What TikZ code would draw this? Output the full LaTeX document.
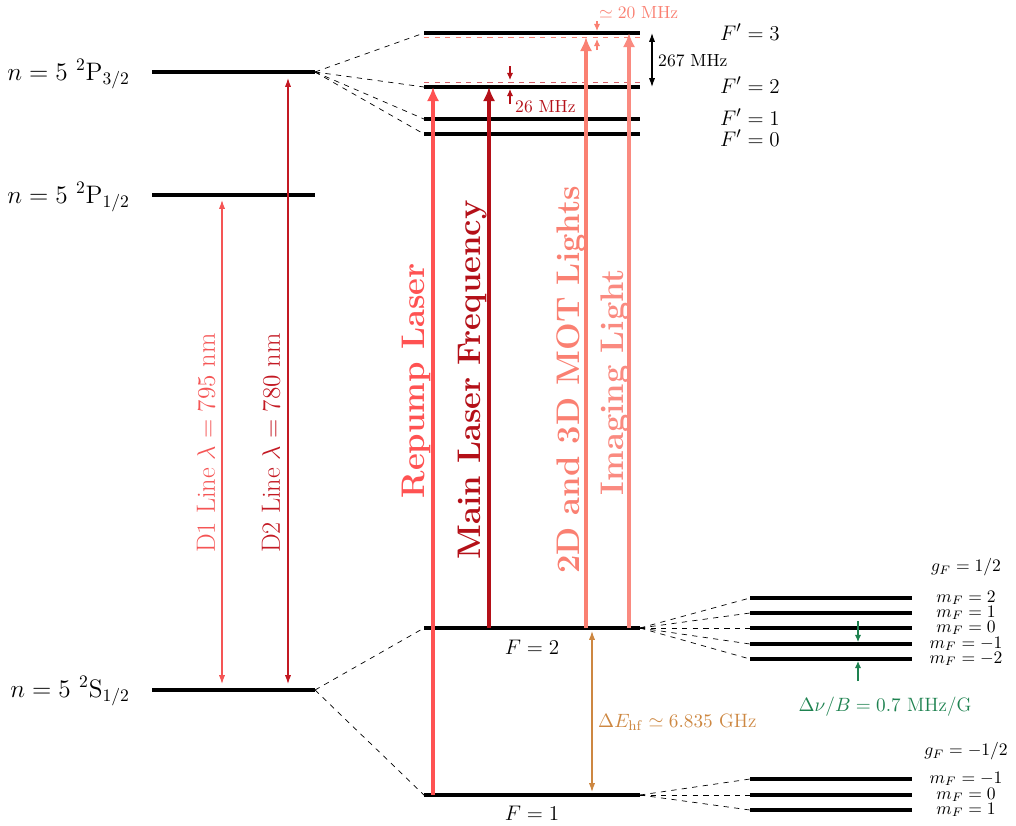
\documentclass[tikz,border=0pt]{standalone}
\usepackage{xcolor}
\usepackage{amsmath}
\usepackage{amssymb}
\usepackage{tikz}
\usetikzlibrary{arrows.meta}

\definecolor{repcol}{RGB}{255,82,82}
\definecolor{maincol}{RGB}{180,16,24}
\definecolor{motcol}{RGB}{250,128,114}
\definecolor{imgcol}{RGB}{250,138,128}
\definecolor{dashcol}{RGB}{215,95,105}
\definecolor{dacol}{RGB}{245,85,85}
\definecolor{dbcol}{RGB}{195,25,35}
\definecolor{hfcol}{RGB}{205,135,65}
\definecolor{zcol}{RGB}{30,130,80}

\begin{document}
\begin{tikzpicture}[x=0.02cm, y=-0.02cm,
                level/.style={line width=2.2pt},
                link/.style={dashed, thin},
                beam/.style={line width=2pt, -{Latex[length=8pt,width=7pt]}},
                gap/.style={semithick, {Latex[length=5pt,width=3.5pt]}-{Latex[length=5pt,width=3.5pt]}},
                tick/.style={semithick, -{Latex[length=4pt,width=3.5pt]}},
                beamlabel/.style={rotate=90, font=\fontsize{18.6}{22}\selectfont\bfseries},
                linelabel/.style={rotate=90, font=\fontsize{15}{18}\selectfont},
                finelabel/.style={font=\Large},
                statelabel/.style={font=\fontsize{13}{15}\selectfont},
                notelabel/.style={font=\fontsize{11}{13}\selectfont}
            ]
        \useasboundingbox (0,0) rectangle (1016,825);

        % fine structure
        \coordinate (P32a) at (152,72);  \coordinate (P32b) at (315,72);
        \coordinate (P12a) at (152,195); \coordinate (P12b) at (315,195);
        \coordinate (S12a) at (152,690); \coordinate (S12b) at (315,690);
        \draw[level] (P32a) -- (P32b);
        \draw[level] (P12a) -- (P12b);
        \draw[level] (S12a) -- (S12b);
        \node[finelabel, anchor=base east] (P32lab) at (136,80)  {$n = 5~^2\mathrm{P}_{3/2}$};
        \node[finelabel, anchor=base east] (P12lab) at (136,203) {$n = 5~^2\mathrm{P}_{1/2}$};
        \node[finelabel, anchor=base east] (S12lab) at (136,697) {$n = 5~^2\mathrm{S}_{1/2}$};

        % hyperfine structure
        \coordinate (F3a) at (424,33);  \coordinate (F3b) at (640,33);
        \coordinate (F2a) at (424,87);  \coordinate (F2b) at (640,87);
        \coordinate (F1a) at (424,119); \coordinate (F1b) at (640,119);
        \coordinate (F0a) at (424,134); \coordinate (F0b) at (640,134);
        \coordinate (G2a) at (424,628); \coordinate (G2b) at (640,628);
        \coordinate (G1a) at (424,795); \coordinate (G1b) at (640,795);
        \draw[level] (F3a) -- (F3b);
        \draw[level] (F2a) -- (F2b);
        \draw[level] (F1a) -- (F1b);
        \draw[level] (F0a) -- (F0b);
        \draw[level] (G2a) -- (G2b);
        \draw[level] (G1a) -- (G1b);
        \node[statelabel, anchor=base east] (F3lab) at (786,40)  {$F' = 3$};
        \node[statelabel, anchor=base east] (F2lab) at (786,93)  {$F' = 2$};
        \node[statelabel, anchor=base east] (F1lab) at (786,125) {$F' = 1$};
        \node[statelabel, anchor=base east] (F0lab) at (786,146) {$F' = 0$};
        \node[statelabel, anchor=base] (G2lab) at (532,654) {$F = 2$};
        \node[statelabel, anchor=base] (G1lab) at (532,820) {$F = 1$};

        \draw[link] (P32b) -- (F3a);
        \draw[link] (P32b) -- (F2a);
        \draw[link] (P32b) -- (F1a);
        \draw[link] (P32b) -- (F0a);
        \draw[link] (S12b) -- (G2a);
        \draw[link] (S12b) -- (G1a);

        % detuned levels
        \coordinate (D3a) at (424,37); \coordinate (D3b) at (640,37);
        \coordinate (D2a) at (424,82); \coordinate (D2b) at (640,82);
        \draw[link, motcol]  (D3a) -- (D3b);
        \draw[link, dashcol] (D2a) -- (D2b);

        % lasers
        \coordinate (rep0) at (433,795); \coordinate (rep1) at (433,87);
        \coordinate (main0) at (489,628); \coordinate (main1) at (489,87);
        \coordinate (mot0) at (586,628); \coordinate (mot1) at (586,37);
        \coordinate (img0) at (629,628); \coordinate (img1) at (629,33);
        \draw[beam, repcol]  (rep0)  -- (rep1);
        \draw[beam, maincol] (main0) -- (main1);
        \draw[beam, motcol]  (mot0)  -- (mot1);
        \draw[beam, imgcol]  (img0)  -- (img1);
        \node[beamlabel, repcol]  (replab)  at (416,381) {Repump Laser};
        \node[beamlabel, maincol] (mainlab) at (473,380) {Main Laser Frequency};
        \node[beamlabel, motcol]  (motlab)  at (571,380) {2D and 3D MOT Lights};
        \node[beamlabel, imgcol]  (imglab)  at (615,382) {Imaging Light};

        % D lines
        \coordinate (Da0) at (222,200); \coordinate (Da1) at (222,684);
        \coordinate (Db0) at (288,78);  \coordinate (Db1) at (288,684);
        \draw[gap, dacol] (Da0) -- (Da1);
        \draw[gap, dbcol] (Db0) -- (Db1);
        \node[linelabel, dacol] (Dalab) at (206,443) {D1 Line $\lambda = 795$ nm};
        \node[linelabel, dbcol] (Dblab) at (271,443) {D2 Line $\lambda = 780$ nm};

        % splittings
        \coordinate (s267a) at (652,33); \coordinate (s267b) at (652,87);
        \draw[gap] (s267a) -- (s267b);
        \node[anchor=west] (s267lab) at (652,61) {267 MHz};
        \coordinate (s20a) at (597,21); \coordinate (s20b) at (597,31);
        \coordinate (s20c) at (597,50); \coordinate (s20d) at (597,39);
        \draw[tick, motcol] (s20a) -- (s20b);
        \draw[tick, motcol] (s20c) -- (s20d);
        \node[anchor=base west, motcol] (s20lab) at (593,18) {$\simeq 20$ MHz};
        \coordinate (s26a) at (510,66);  \coordinate (s26b) at (510,80);
        \coordinate (s26c) at (510,104); \coordinate (s26d) at (510,89);
        \draw[tick, maincol] (s26a) -- (s26b);
        \draw[tick, maincol] (s26c) -- (s26d);
        \node[anchor=base west, maincol] (s26lab) at (509,112) {26 MHz};
        \coordinate (hf0) at (592,631); \coordinate (hf1) at (592,792);
        \draw[gap, hfcol] (hf0) -- (hf1);
        \node[notelabel, anchor=base west, hfcol] (hflab) at (592,727) {$\Delta E_{\mathrm{hf}} \simeq 6.835$ GHz};

        % Zeeman sublevels of F = 2
        \coordinate (m2a) at (750,598);  \coordinate (m2b) at (912,598);
        \coordinate (m1a) at (750,613);  \coordinate (m1b) at (912,613);
        \coordinate (m0a) at (750,628);  \coordinate (m0b) at (912,628);
        \coordinate (mm1a) at (750,644); \coordinate (mm1b) at (912,644);
        \coordinate (mm2a) at (750,659); \coordinate (mm2b) at (912,659);
        \draw[level] (m2a) -- (m2b);
        \draw[level] (m1a) -- (m1b);
        \draw[level] (m0a) -- (m0b);
        \draw[level] (mm1a) -- (mm1b);
        \draw[level] (mm2a) -- (mm2b);
        \draw[link] (G2b) -- (m2a);
        \draw[link] (G2b) -- (m1a);
        \draw[link] (G2b) -- (m0a);
        \draw[link] (G2b) -- (mm1a);
        \draw[link] (G2b) -- (mm2a);
        \node[inner sep=0pt] (m2lab)  at (966,598) {$m_F = 2$};
        \node[inner sep=0pt] (m1lab)  at (966,613) {$m_F = 1$};
        \node[inner sep=0pt] (m0lab)  at (966,628) {$m_F = 0$};
        \node[inner sep=0pt] (mm1lab) at (966,644) {$m_F = -1$};
        \node[inner sep=0pt] (mm2lab) at (966,659) {$m_F = -2$};
        \node (g2lab)  at (966,567) {$g_F = 1/2$};

        % Zeeman sublevels of F = 1
        \coordinate (n1a) at (750,779); \coordinate (n1b) at (912,779);
        \coordinate (n0a) at (750,795); \coordinate (n0b) at (912,795);
        \coordinate (np1a) at (750,810); \coordinate (np1b) at (912,810);
        \draw[level] (n1a) -- (n1b);
        \draw[level] (n0a) -- (n0b);
        \draw[level] (np1a) -- (np1b);
        \draw[link] (G1b) -- (n1a);
        \draw[link] (G1b) -- (n0a);
        \draw[link] (G1b) -- (np1a);
        \node[inner sep=0pt] (n1lab)  at (966,779) {$m_F = -1$};
        \node[inner sep=0pt] (n0lab)  at (966,795) {$m_F = 0$};
        \node[inner sep=0pt] (np1lab) at (966,810) {$m_F = 1$};
        \node (g1lab)  at (966,751) {$g_F = -1/2$};

        % Zeeman shift
        \coordinate (z0) at (858,621); \coordinate (z1) at (858,642);
        \coordinate (z2) at (858,681); \coordinate (z3) at (858,661);
        \draw[tick, zcol] (z0) -- (z1);
        \draw[tick, zcol] (z2) -- (z3);
        \node[notelabel, zcol] (zlab) at (885,707) {$\Delta\nu/B = 0.7$ MHz/G};
            \end{tikzpicture}
\end{document}
